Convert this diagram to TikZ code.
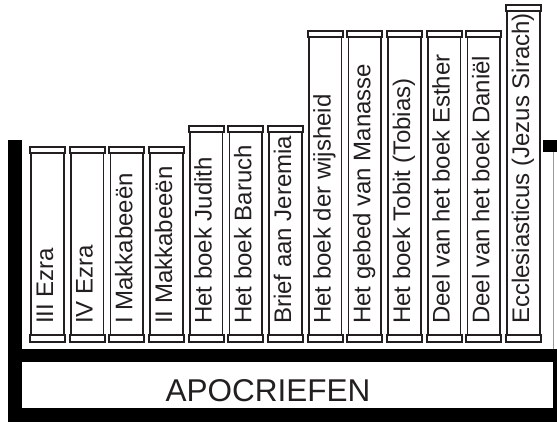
\documentclass[tikz,border=0pt]{standalone}
\usepackage{fontspec}
\setmainfont{Liberation Sans}
\definecolor{ink}{HTML}{231F20}
\definecolor{frameline}{HTML}{9A9A9A}
\tikzset{
  bar/.style={fill=black, draw=none},
  bookline/.style={draw=ink, line width=1.8pt, fill=white},
  bodyline/.style={draw=ink, line width=1.8pt},
  spine/.style={rotate=90, anchor=base west, inner sep=0pt, text=ink,
                font=\fontsize{24}{24}\selectfont},
  title/.style={anchor=base, inner sep=0pt, text=ink,
                font=\fontsize{31.5}{32}\selectfont},
}
\begin{document}
\begin{tikzpicture}[x=1pt, y=-1pt]
\useasboundingbox (0,0) rectangle (557,423);
\fill[white] (0,0) rectangle (557,423);
% shelf frame
\fill[bar] (8,140) rectangle (21.5,422);
\fill[bar] (543,140) rectangle (557,152);
\draw[frameline, line width=0.8pt] (553,152) -- (553,349);
\fill[bar] (8,349) rectangle (557,362);
\fill[bar] (8,408) rectangle (557,422);
\fill[bar] (553,362) rectangle (557,408);
% books
\foreach \i/\top/\name/\txt in {
  0/147/b1/{III Ezra},
  1/147/b2/{IV Ezra},
  2/147/b3/{I Makkabeeën},
  3/147/b4/{II Makkabeeën},
  4/126/b5/{Het boek Judith},
  5/126/b6/{Het boek Baruch},
  6/126/b7/{Brief aan Jeremia},
  7/31/b8/{Het boek der wijsheid},
  8/31/b9/{Het gebed van Manasse},
  9/31/b10/{Het boek Tobit (Tobias)},
  10/31/b11/{Deel van het boek Esther},
  11/31/b12/{Deel van het boek Daniël},
  12/5/b13/{Ecclesiasticus (Jezus Sirach)}}{
  \pgfmathsetmacro{\L}{30+\i*39.67}
  \pgfmathsetmacro{\R}{\L+35}
  \pgfmathsetmacro{\C}{\top+6}
  \draw[bodyline] (\L+1.2,\C) -- (\L+1.2,335) (\R-1.2,\C) -- (\R-1.2,335);
  \draw[bookline] (\L,\top) rectangle (\R,\C);
  \draw[bookline] (\L,335) rectangle (\R,342);
  \node[spine] (\name) at (\L+23,324) {\txt};
}
% title
\node[title] (apo) at (268,401) {APOCRIEFEN};
\end{tikzpicture}
\end{document}
